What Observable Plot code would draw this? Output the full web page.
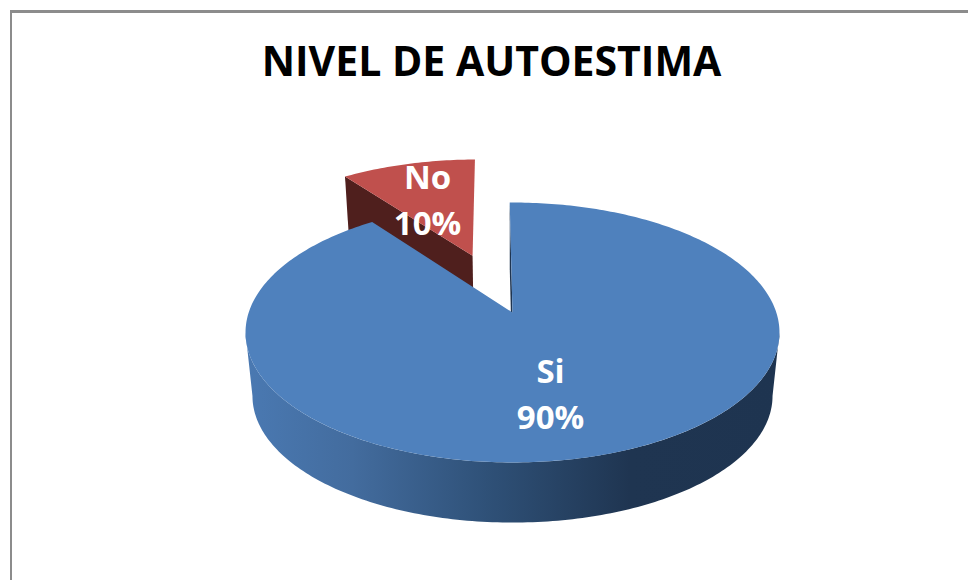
<!DOCTYPE html>
<html>
<head>
<meta charset="utf-8">
<script src="https://cdn.jsdelivr.net/npm/d3@7"></script>
<script src="https://cdn.jsdelivr.net/npm/@observablehq/plot@0.6"></script>
<style>
html,body{margin:0;padding:0;background:#fff;}
#wrap{position:relative;width:968px;height:580px;overflow:hidden;}
#frame{position:absolute;left:10px;top:10px;width:970px;height:590px;border-style:solid;border-color:#8c8c8c;border-width:3px 2px 2px 2px;box-sizing:border-box;}
#chart{position:absolute;left:0;top:0;}
svg{background:transparent !important;}
</style>
</head>
<body>
<div id="wrap"><div id="frame"></div><div id="chart"></div></div>
<script>
const chartTitle = "NIVEL DE AUTOESTIMA";
const categories = ["Si", "No"];
const percents = [90, 10];
const topColors = ["#4f81bd", "#c0504d"];

const W = 968, H = 580;
// Perspective view of the pie disc
const cx = 512, cy = 312, A = 263.8, B = 126.9, k = 0.1538;
const lowerScale = 0.974, lowerDrop = 64, explode = 0.507, rotation = -0.7 * Math.PI / 180;

function project(u, v, lower) {
  const d = 1 + k * v;
  const s = lower ? lowerScale : 1;
  return {x: cx + s * A * u / d, y: cy + (lower ? lowerDrop : 0) - s * B * v / d};
}
const arcs = d3.pie().sort(null).startAngle(rotation).endAngle(rotation + 2 * Math.PI)(percents);
function arcPts(a, ox, oy, lower) {
  const n = Math.max(8, Math.round((a.endAngle - a.startAngle) * 60));
  return d3.range(n + 1).map(i => {
    const t = a.startAngle + (a.endAngle - a.startAngle) * i / n;
    return project(ox + Math.sin(t), oy + Math.cos(t), lower);
  });
}
const [si, no] = arcs;
const mid = (no.startAngle + no.endAngle) / 2;
const ex = explode * Math.sin(mid), ey = explode * Math.cos(mid);

// Visible front of the disc: between the two silhouette angles of the perspective ellipse
const side = Math.acos(-k);
const front = {startAngle: side, endAngle: 2 * Math.PI - side};

const siTop = [project(0, 0, false), ...arcPts(si, 0, 0, false)];
const siWall = [...arcPts(front, 0, 0, false), ...arcPts(front, 0, 0, true).reverse()];
const siCut = [project(0, 0, false), arcPts(si, 0, 0, false)[0], arcPts(si, 0, 0, true)[0], project(0, 0, true)];
const noTop = [project(ex, ey, false), ...arcPts(no, ex, ey, false)];
const noStart = arcPts(no, ex, ey, false)[0], noStartLow = arcPts(no, ex, ey, true)[0];
const noCut = [noStart, project(ex, ey, false), project(ex, ey, true), noStartLow];

const labels = [
  {text: `${categories[0]}\n${percents[0]}%`, x: 550, y: 391},
  {text: `${categories[1]}\n${percents[1]}%`, x: 427, y: 197}
];

const defs = () => {
  const d = d3.create("svg:defs");
  const g = d.append("linearGradient").attr("id", "wallGrad")
    .attr("gradientUnits", "userSpaceOnUse").attr("x1", 245).attr("x2", 779).attr("y1", 0).attr("y2", 0);
  [[0, "#4a79b2"], [0.2, "#436c9e"], [0.45, "#2f5178"], [0.72, "#1f3551"], [1, "#1e3450"]]
    .forEach(([o, c]) => g.append("stop").attr("offset", o).attr("stop-color", c));
  return d.node();
};

const poly = (pts, fill) => Plot.line(pts, {x: "x", y: "y", fill, stroke: "none"});

const plot = Plot.plot({
  width: W, height: H, margin: 0,
  x: {domain: [0, W], range: [0, W], axis: null},
  y: {domain: [0, H], range: [0, H], axis: null},
  style: {background: "transparent"},
  marks: [
    defs,
    poly(noCut, "#4f1f1d"),
    poly(noTop, topColors[1]),
    poly(siCut, "#1f3551"),
    poly(siWall, "url(#wallGrad)"),
    poly(siTop, topColors[0]),
    Plot.text(labels, {x: "x", y: "y", text: "text", fill: "white", fontSize: 33, fontWeight: 700,
      fontFamily: "'Open Sans', sans-serif", lineHeight: 1.39}),
    Plot.text([chartTitle], {x: () => 491, y: () => 62, text: d => d, fill: "black", fontSize: 41,
      fontWeight: 700, fontFamily: "'Open Sans', sans-serif"})
  ]
});
document.getElementById("chart").appendChild(plot);
</script>
</body>
</html>
